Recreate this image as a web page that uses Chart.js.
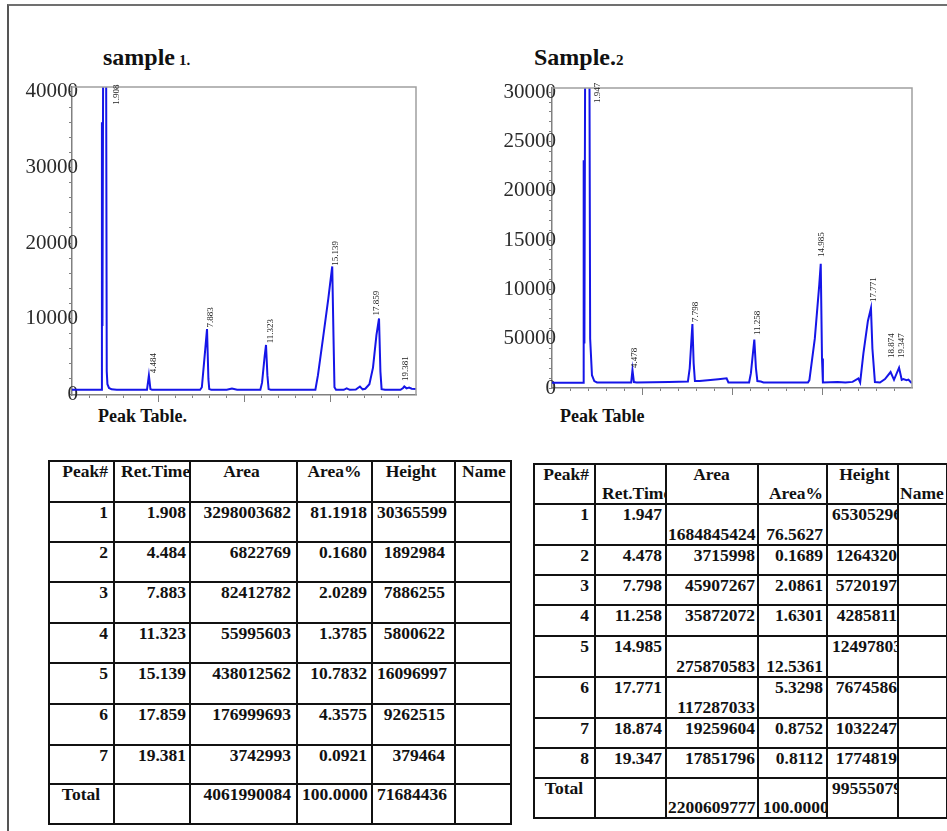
<!DOCTYPE html>
<html>
<head>
<meta charset="utf-8">
<title>Peak tables</title>
<script src="https://cdn.jsdelivr.net/npm/chart.js@4.4.1/dist/chart.umd.min.js"></script>
<style>
  body { margin:0; width:947px; height:831px; position:relative; overflow:hidden; background:#fff;
         font-family:"Liberation Serif","Times New Roman",serif; color:#111; }
  #frame { position:absolute; left:7px; top:4px; width:960px; height:850px;
           border-top:2px solid #707070; border-left:2px solid #555; }
  .title { position:absolute; font-weight:bold; white-space:nowrap; line-height:28px; }
  .title .big { font-size:24px; }
  .title .small { font-size:15px; }
  .sub { position:absolute; font-weight:bold; font-size:18px; line-height:20px; white-space:nowrap; }
  canvas { position:absolute; }
  table { position:absolute; border-collapse:collapse; table-layout:fixed; font-weight:bold; font-size:17.5px; }
  td { border:2px solid #111; padding:0 4px; vertical-align:top; overflow:hidden; white-space:nowrap;
       line-height:19px; text-align:right; }
  td.bot { vertical-align:bottom; }
</style>
</head>
<body>
<div id="frame"></div>

<div class="title" style="left:103px; top:43px;"><span class="big">sample</span> <span class="small">1.</span></div>
<div class="title" style="left:534px; top:43px;"><span class="big">Sample.</span><span class="small">2</span></div>

<canvas id="chart1" width="410" height="325" style="left:10px; top:80px;"></canvas>
<canvas id="chart2" width="440" height="318" style="left:480px; top:80px;"></canvas>

<div class="sub" style="left:98px; top:406px;">Peak Table.</div>
<div class="sub" style="left:560px; top:406px;">Peak Table</div>

<table id="table1" style="left:48px; top:460px; width:462px;"></table>
<table id="table2" style="left:533px; top:463px; width:413px;"></table>

<script>
// ---- sample 1 chromatogram (time in min, signal)
const s1Time = [0, 1.70, 1.74, 1.77, 1.83, 1.97, 2.02, 2.06, 2.15, 2.3, 2.6,
  4.36, 4.47, 4.56, 4.65,
  7.45, 7.55, 7.75, 7.85, 7.93, 7.98, 8.1,
  9.0, 9.3, 9.6,
  10.95, 11.05, 11.2, 11.28, 11.36, 11.43, 11.55,
  14.15, 14.3, 14.6, 14.9, 15.0, 15.13, 15.2, 15.26, 15.35,
  15.8, 15.97, 16.15,
  16.5, 16.74, 16.9, 17.05, 17.29, 17.5, 17.7, 17.85, 17.93, 18.0, 18.2,
  19.1, 19.25, 19.32, 19.45, 19.6, 19.75, 20];
const s1Signal = [550, 560, 36000, 9000, 60000, 60000, 3000, 1300, 800, 620, 560,
  560, 2450, 650, 560,
  560, 900, 6000, 8600, 2000, 650, 560,
  560, 720, 570,
  560, 1500, 5000, 6500, 2500, 650, 560,
  560, 2500, 7500, 12600, 14500, 16900, 8000, 900, 560,
  560, 750, 560,
  600, 1000, 620, 700, 1300, 3500, 7800, 10000, 3000, 650, 560,
  560, 800, 1000, 750, 850, 700, 650];

// peak annotations (text, time where drawn, signal where text starts)
const s1LabelText = ['1.908', '4.484', '7.883', '11.323', '15.139', '17.859', '19.381'];
const s1LabelAt = [2.62, 4.75, 8.08, 11.57, 15.35, 17.73, 19.42];
const s1LabelFrom = [38300, 2760, 8800, 6710, 16980, 10400, 1710];

const s1YTicks = [0, 10000, 20000, 30000, 40000];
const s1YLabels = ['0', '10000', '20000', '30000', '40000'];
const s1YMinor = [2000, 4000, 6000, 8000, 12000, 14000, 16000, 18000, 22000, 24000, 26000, 28000, 32000, 34000, 36000, 38000];

// ---- sample 2 chromatogram
const s2Time = [0, 1.74, 1.76, 1.80, 1.88, 2.04, 2.12, 2.22, 2.35, 2.5,
  4.40, 4.47, 4.55, 4.7,
  6.5, 7.55, 7.65, 7.80, 7.87, 7.94, 8.2, 8.8, 9.24, 9.70, 9.80,
  10.95, 11.05, 11.24, 11.33, 11.41, 11.6, 11.75,
  13.5, 14.22, 14.3, 14.6, 14.85, 14.93, 15.0, 15.05,
  15.87, 16.3, 16.7, 17.02, 17.12, 17.3, 17.55, 17.72, 17.8, 17.94, 18.22,
  18.5, 18.81, 19.0, 19.28, 19.43, 19.52, 19.7, 19.8, 19.95, 20];
const s2Signal = [540, 540, 23100, 4500, 60000, 60000, 5000, 1300, 700, 560,
  560, 1830, 600, 560,
  620, 650, 2000, 6480, 2500, 700, 700, 800, 880, 980, 560,
  560, 1500, 4900, 2000, 700, 650, 560,
  560, 560, 800, 5000, 10500, 12600, 3000, 560,
  600, 560, 620, 980, 560, 3500, 6800, 8090, 4000, 600, 560,
  900, 1620, 830, 2060, 830, 900, 800, 850, 560, 560];

const s2LabelText = ['1.947', '4.478', '7.798', '11.258', '14.985', '17.771', '18.874', '19.347'];
const s2LabelAt = [2.56, 4.59, 7.99, 11.40, 15.0, 17.87, 18.87, 19.43];
const s2LabelFrom = [28900, 2030, 6690, 5370, 13280, 8720, 3040, 3040];

const s2YTicks = [0, 5000, 10000, 15000, 20000, 25000, 30000];
const s2YLabels = ['0', '50000', '10000', '15000', '20000', '25000', '30000'];
const s2YMinor = [1000, 2000, 3000, 4000, 6000, 7000, 8000, 9000, 11000, 12000, 13000, 14000,
  16000, 17000, 18000, 19000, 21000, 22000, 23000, 24000, 26000, 27000, 28000, 29000];

// x axis ticks (minutes)
const xMinor = [1, 2, 3, 4, 5, 6, 7, 8, 9, 10, 11, 12, 13, 14, 15, 16, 17, 18, 19];
const xMajor = [5, 10, 15];

// ---- peak tables
const tableHead1 = ['Peak#', 'Ret.Time', 'Area', 'Area%', 'Height', 'Name'];
const t1Peak = ['1', '2', '3', '4', '5', '6', '7', 'Total'];
const t1Ret = ['1.908', '4.484', '7.883', '11.323', '15.139', '17.859', '19.381', ''];
const t1Area = ['3298003682', '6822769', '82412782', '55995603', '438012562', '176999693', '3742993', '4061990084'];
const t1AreaPct = ['81.1918', '0.1680', '2.0289', '1.3785', '10.7832', '4.3575', '0.0921', '100.0000'];
const t1Height = ['30365599', '1892984', '7886255', '5800622', '16096997', '9262515', '379464', '71684436'];

const t2Peak = ['1', '2', '3', '4', '5', '6', '7', '8', 'Total'];
const t2Ret = ['1.947', '4.478', '7.798', '11.258', '14.985', '17.771', '18.874', '19.347', ''];
const t2Area = ['1684845424', '3715998', '45907267', '35872072', '275870583', '117287033', '19259604', '17851796', '2200609777'];
const t2AreaPct = ['76.5627', '0.1689', '2.0861', '1.6301', '12.5361', '5.3298', '0.8752', '0.8112', '100.0000'];
const t2Height = ['65305296', '1264320', '5720197', '4285811', '12497803', '7674586', '1032247', '1774819', '99555079'];

// layout of the tables (not data)
const t1ColW = [65, 76, 107, 75, 83, 56];
const t1RowH = [41, 40, 40, 41, 40, 41, 41, 39, 40];
const t1HeadAlign = ['right', 'left', 'center', 'center', 'center', 'left'];
const t1PadR = [5, 3, 5, 4, 9, 4];

const t2ColW = [61, 71, 92, 69, 71, 49];
const t2RowH = [40, 41, 30, 30, 31, 41, 41, 30, 30, 40];
const t2HeadAlign = ['right', 'left', 'center', 'right', 'center', 'left'];
const t2PadR = [5, 3, 2, 3, 0, 2];
// cells whose text sits at the bottom: [row (0 = header), col]
const t2BottomCells = [[0, 1], [0, 3], [0, 5], [1, 2], [1, 3], [5, 2], [5, 3], [6, 2], [9, 2], [9, 3]];

function buildTable(el, head, cols, colW, rowH, headAlign, padR, bottomCells) {
  const cg = document.createElement('colgroup');
  colW.forEach(w => { const c = document.createElement('col'); c.style.width = w + 'px'; cg.appendChild(c); });
  el.appendChild(cg);
  const isBottom = (r, c) => (bottomCells || []).some(b => b[0] === r && b[1] === c);
  const nRows = cols[0].length + 1;
  for (let r = 0; r < nRows; r++) {
    const tr = document.createElement('tr');
    tr.style.height = rowH[r] + 'px';
    for (let c = 0; c < head.length; c++) {
      const td = document.createElement('td');
      const text = r === 0 ? head[c] : (c < cols.length ? cols[c][r - 1] : '');
      td.textContent = text;
      if (r === 0) {
        td.style.textAlign = headAlign[c];
        if (headAlign[c] === 'left') td.style.paddingLeft = (c === 5 && bottomCells ? 1 : 6) + 'px';
      } else if (c === 0 && r === nRows - 1) {
        td.style.textAlign = 'center';
      }
      td.style.paddingRight = padR[c] + 'px';
      if (c === 2) td.style.paddingLeft = '1px';
      if (isBottom(r, c)) td.className = 'bot';
      tr.appendChild(td);
    }
    el.appendChild(tr);
  }
}

buildTable(document.getElementById('table1'), tableHead1,
  [t1Peak, t1Ret, t1Area, t1AreaPct, t1Height], t1ColW, t1RowH, t1HeadAlign, t1PadR, null);
buildTable(document.getElementById('table2'), tableHead1,
  [t2Peak, t2Ret, t2Area, t2AreaPct, t2Height], t2ColW, t2RowH, t2HeadAlign, t2PadR, t2BottomCells);

// ---- chart helpers
const traceColor = '#1515e8';
const axisColor = '#808080';
const tickFontSize = 21;

// gray frame on top and right side of the plot
const framePlugin = {
  id: 'frame',
  afterDatasetsDraw(chart) {
    const { ctx, chartArea: a } = chart;
    ctx.save();
    ctx.strokeStyle = '#a0a0a0';
    ctx.lineWidth = 1.5;
    ctx.beginPath();
    ctx.moveTo(a.left, a.top);
    ctx.lineTo(a.right, a.top);
    ctx.lineTo(a.right, a.bottom);
    ctx.stroke();
    ctx.restore();
  }
};

// retention time written vertically above each peak
const peakLabelPlugin = {
  id: 'peakLabels',
  afterDatasetsDraw(chart, args, opts) {
    const { ctx, scales } = chart;
    ctx.save();
    ctx.font = '9px "Liberation Serif"';
    ctx.fillStyle = '#222';
    ctx.textAlign = 'left';
    ctx.textBaseline = 'middle';
    opts.text.forEach((s, i) => {
      const px = scales.x.getPixelForValue(opts.at[i]);
      const py = scales.y.getPixelForValue(opts.from[i]);
      ctx.save();
      ctx.translate(px, py);
      ctx.rotate(-Math.PI / 2);
      ctx.fillText(s, 0, 0);
      ctx.restore();
    });
    ctx.restore();
  }
};

function makeChart(id, time, signal, cfg) {
  const points = time.map((t, i) => ({ x: t, y: signal[i] }));
  const allY = cfg.yTicks.concat(cfg.yMinor).sort((a, b) => a - b);
  // labels are mirrored (so they are not clipped to the axis box) and pulled back
  // to the left, so that the last digit sits over the axis line
  const widest = tickFontSize * 0.5 * 5;
  return new Chart(document.getElementById(id), {
    type: 'line',
    data: {
      datasets: [{
        data: points,
        borderColor: traceColor,
        borderWidth: 2,
        pointRadius: 0,
        tension: 0,
        fill: false
      }]
    },
    options: {
      responsive: false,
      animation: false,
      events: [],
      layout: { padding: cfg.padding },
      plugins: {
        legend: { display: false },
        tooltip: { enabled: false },
        peakLabels: { text: cfg.labelText, at: cfg.labelAt, from: cfg.labelFrom }
      },
      scales: {
        x: {
          type: 'linear', min: 0, max: 20, weight: 0,
          afterBuildTicks: s => { s.ticks = xMinor.map(v => ({ value: v })); },
          afterFit: s => { s.height = 0; },
          ticks: { display: false },
          grid: { drawOnChartArea: false, tickLength: 3, color: axisColor },
          border: { color: axisColor, width: 1.5 }
        },
        x2: {
          type: 'linear', position: 'bottom', min: 0, max: 20, weight: 1,
          afterBuildTicks: s => { s.ticks = xMajor.map(v => ({ value: v })); },
          afterFit: s => { s.height = 10; },
          ticks: { display: false },
          grid: { drawOnChartArea: false, tickLength: 7, color: axisColor },
          border: { display: false }
        },
        y: {
          min: cfg.yMin, max: cfg.yMax,
          afterBuildTicks: s => { s.ticks = allY.map(v => ({ value: v })); },
          afterFit: s => { s.width = cfg.yWidth; },
          ticks: {
            autoSkip: false,
            mirror: true,
            crossAlign: 'far',
            padding: cfg.overhang - widest,
            color: '#2a2a2a',
            font: { family: 'Liberation Serif', size: tickFontSize },
            callback: v => { const i = cfg.yTicks.indexOf(v); return i < 0 ? '' : cfg.yLabels[i]; }
          },
          grid: { drawOnChartArea: false, tickLength: 3, color: axisColor },
          border: { color: axisColor, width: 1.5 }
        }
      }
    },
    plugins: [framePlugin, peakLabelPlugin]
  });
}

makeChart('chart1', s1Time, s1Signal, {
  yMin: -130, yMax: 40660, yTicks: s1YTicks, yLabels: s1YLabels, yMinor: s1YMinor,
  yWidth: 62, overhang: 6, padding: { top: 7, right: 4, left: 0, bottom: 0 },
  labelText: s1LabelText, labelAt: s1LabelAt, labelFrom: s1LabelFrom
});

makeChart('chart2', s2Time, s2Signal, {
  yMin: 0, yMax: 30420, yTicks: s2YTicks, yLabels: s2YLabels, yMinor: s2YMinor,
  yWidth: 72, overhang: 4, padding: { top: 8, right: 8, left: 0, bottom: 0 },
  labelText: s2LabelText, labelAt: s2LabelAt, labelFrom: s2LabelFrom
});
</script>
</body>
</html>
